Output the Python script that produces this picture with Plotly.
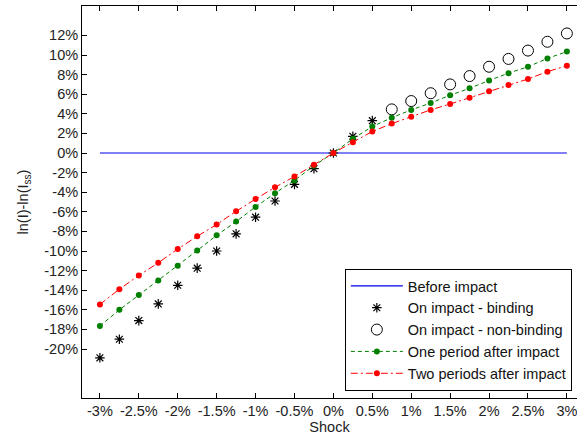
import plotly.graph_objects as go

shock = [-3, -2.75, -2.5, -2.25, -2, -1.75, -1.5, -1.25, -1, -0.75, -0.5, -0.25,
         0, 0.25, 0.5, 0.75, 1, 1.25, 1.5, 1.75, 2, 2.25, 2.5, 2.75, 3]
before = [0] * len(shock)
binding_x = shock[:15]
binding = [-20.9, -19.0, -17.1, -15.4, -13.5, -11.75, -10.0, -8.25, -6.55, -4.9,
           -3.2, -1.6, 0, 1.7, 3.3]
nonbinding_x = shock[15:]
nonbinding = [4.45, 5.3, 6.1, 7.0, 7.85, 8.8, 9.6, 10.45, 11.35, 12.2]
one_period = [-17.65, -16.0, -14.5, -13.0, -11.5, -9.95, -8.4, -7.0, -5.5, -4.1,
              -2.8, -1.3, 0, 1.45, 2.7, 3.6, 4.4, 5.1, 5.9, 6.6, 7.4, 8.15, 8.8,
              9.65, 10.35]
two_periods = [-15.45, -13.9, -12.5, -11.2, -9.8, -8.5, -7.3, -5.95, -4.7, -3.5,
               -2.4, -1.2, 0, 1.1, 2.2, 3.0, 3.7, 4.4, 5.0, 5.65, 6.3, 6.95, 7.55,
               8.3, 8.9]

x_ticks = [-3, -2.5, -2, -1.5, -1, -0.5, 0, 0.5, 1, 1.5, 2, 2.5, 3]
y_ticks = list(range(-20, 13, 2))

font = "Arial, Liberation Sans, sans-serif"

fig = go.Figure()
fig.add_trace(go.Scatter(x=shock, y=before, mode="lines", name="Before impact",
                         line=dict(color="#0000ee", width=1.2)))
fig.add_trace(go.Scatter(x=binding_x, y=binding, mode="markers", name="On impact - binding",
                         marker=dict(symbol="asterisk-open", size=8, color="black",
                                     line=dict(color="black", width=1.2))))
fig.add_trace(go.Scatter(x=nonbinding_x, y=nonbinding, mode="markers",
                         name="On impact - non-binding",
                         marker=dict(symbol="circle-open", size=11, color="black",
                                     line=dict(color="black", width=1))))
fig.add_trace(go.Scatter(x=shock, y=one_period, mode="lines+markers",
                         name="One period after impact",
                         line=dict(color="#008000", width=1, dash="4px,3px"),
                         marker=dict(symbol="circle", size=6, color="#008000")))
fig.add_trace(go.Scatter(x=shock, y=two_periods, mode="lines+markers",
                         name="Two periods after impact",
                         line=dict(color="#ff0000", width=1, dash="7px,3px,2px,3px"),
                         marker=dict(symbol="circle", size=6, color="#ff0000")))

fig.update_layout(
    width=577, height=441,
    margin=dict(l=82, r=0, t=6, b=43),
    paper_bgcolor="white", plot_bgcolor="white",
    font=dict(family=font, size=14.5, color="#222222"),
    showlegend=True,
    legend=dict(x=0.531, y=0.018, xanchor="left", yanchor="bottom",
                bordercolor="black", borderwidth=1, bgcolor="white",
                font=dict(family=font, size=14.5, color="#111111"),
                itemwidth=52, tracegroupgap=0),
)
fig.update_xaxes(
    range=[-3.23, 3.13], tickvals=x_ticks, ticktext=[f"{v:g}%" for v in x_ticks],
    ticks="inside", ticklen=5, tickcolor="black", showline=True, linecolor="black",
    linewidth=1, mirror="ticks", showgrid=False, zeroline=False,
    tickfont=dict(size=14.5), ticklabeloverflow="allow",
    title=dict(text="Shock", standoff=2, font=dict(size=14.5)),
)
fig.update_yaxes(
    range=[-25, 15], tickvals=y_ticks, ticktext=[f"{v}%" for v in y_ticks],
    ticks="inside", ticklen=5, tickcolor="black", showline=True, linecolor="black",
    linewidth=1, mirror=False, showgrid=False, zeroline=False,
    tickfont=dict(size=14.5),
    title=dict(text="ln(I)-ln(I<sub>ss</sub>)", standoff=12, font=dict(size=14.5)),
)

fig.write_html("out.html")
